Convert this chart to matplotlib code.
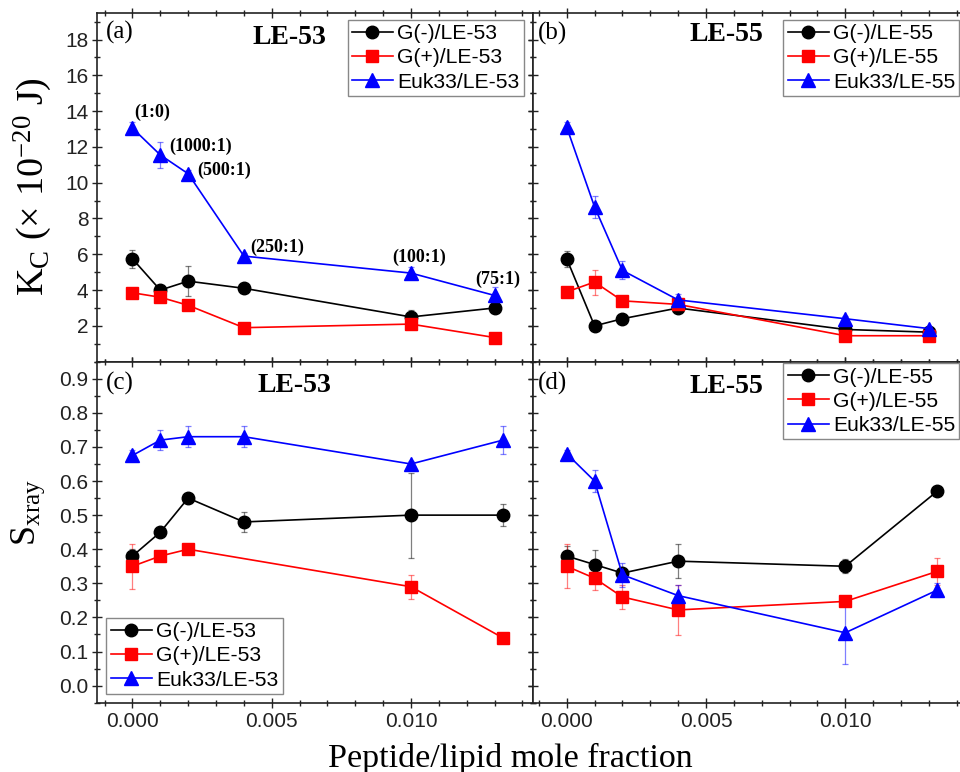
import matplotlib
matplotlib.use('Agg')
import matplotlib.pyplot as plt
from matplotlib.ticker import MultipleLocator, FormatStrFormatter

plt.rcParams['font.family'] = 'Liberation Sans'
plt.rcParams['mathtext.fontset'] = 'custom'
plt.rcParams['mathtext.rm'] = 'Liberation Serif'
plt.rcParams['mathtext.it'] = 'Liberation Serif:italic'

# peptide/lipid mole fraction
x_top = [0.0, 0.001, 0.002, 0.004, 0.010, 0.013]
x_bot = [0.0, 0.001, 0.002, 0.004, 0.010, 0.0133]
x_bot_gp53 = [0.0, 0.001, 0.002, 0.010, 0.0133]

# (a) Kc, LE-53
kc53_gm = [5.75, 4.0, 4.5, 4.1, 2.5, 3.0]
kc53_gm_err = [0.5, 0.0, 0.85, 0.1, 0.4, 0.3]
kc53_gp = [3.85, 3.6, 3.15, 1.9, 2.1, 1.35]
kc53_gp_err = [0.15, 0.15, 0.15, 0.1, 0.15, 0.1]
kc53_euk = [13.05, 11.55, 10.5, 5.9, 4.95, 3.7]
kc53_euk_err = [0.35, 0.75, 0.2, 0.2, 0.35, 0.45]
ratio_labels = ['(1:0)', '(1000:1)', '(500:1)', '(250:1)', '(100:1)', '(75:1)']

# (b) Kc, LE-55
kc55_gm = [5.75, 2.0, 2.4, 3.0, 1.8, 1.65]
kc55_gm_err = [0.45, 0.1, 0.1, 0.15, 0.2, 0.1]
kc55_gp = [3.9, 4.45, 3.4, 3.2, 1.45, 1.45]
kc55_gp_err = [0.15, 0.7, 0.15, 0.1, 0.1, 0.1]
kc55_euk = [13.1, 8.65, 5.1, 3.45, 2.4, 1.85]
kc55_euk_err = [0.3, 0.6, 0.5, 0.35, 0.15, 0.15]

# (c) Sxray, LE-53
s53_gm = [0.38, 0.45, 0.55, 0.48, 0.50, 0.50]
s53_gm_err = [0.02, 0.01, 0.01, 0.03, 0.125, 0.032]
s53_gp = [0.35, 0.38, 0.40, 0.29, 0.14]
s53_gp_err = [0.066, 0.01, 0.01, 0.035, 0.01]
s53_euk = [0.675, 0.72, 0.73, 0.73, 0.65, 0.72]
s53_euk_err = [0.015, 0.03, 0.03, 0.03, 0.01, 0.042]

# (d) Sxray, LE-55
s55_gm = [0.38, 0.355, 0.33, 0.365, 0.35, 0.57]
s55_gm_err = [0.03, 0.043, 0.01, 0.05, 0.02, 0.01]
s55_gp = [0.35, 0.315, 0.26, 0.222, 0.247, 0.335]
s55_gp_err = [0.065, 0.035, 0.035, 0.073, 0.01, 0.04]
s55_euk = [0.68, 0.60, 0.325, 0.264, 0.155, 0.28]
s55_euk_err = [0.01, 0.033, 0.036, 0.03, 0.093, 0.02]

SERIF = 'Liberation Serif'

fig = plt.figure(figsize=(9.6, 7.72), dpi=100)
L, M, R = 0.1014, 0.5555, 1.0
B, MID, T = 0.0898, 0.5315, 0.9836
ax_a = fig.add_axes([L, MID, M - L, T - MID])
ax_b = fig.add_axes([M, MID, R - M, T - MID])
ax_c = fig.add_axes([L, B, M - L, MID - B])
ax_d = fig.add_axes([M, B, R - M, MID - B])


def series(ax, x, y, err, color, marker, ms, label):
    ax.errorbar(x, y, yerr=err, color=color, marker=marker, ms=ms, lw=1.2,
                elinewidth=0.9, capsize=2.5, capthick=0.9,
                ecolor=matplotlib.colors.to_rgba(color, 0.5), label=label)


def style(ax, left_labels, bottom_labels, right_edge=False):
    for s in ax.spines.values():
        s.set_linewidth(1.2)
        s.set_color('#222222')
    ax.tick_params(which='both', direction='inout', top=True, right=not right_edge,
                   labelsize=15, labelleft=left_labels, labelbottom=bottom_labels,
                   width=1.0, colors='#222222', labelcolor='#222222')
    ax.tick_params(which='major', length=7, pad=3)
    ax.tick_params(which='minor', length=4)
    if right_edge:
        ax.spines['right'].set_visible(False)
    ax.xaxis.set_major_locator(MultipleLocator(0.005))
    ax.xaxis.set_minor_locator(MultipleLocator(0.001))
    ax.xaxis.set_major_formatter(FormatStrFormatter('%.3f'))


def legend(ax, loc, anchor):
    handles, labels = ax.get_legend_handles_labels()
    handles = [h[0] for h in handles]
    lg = ax.legend(handles, labels, loc=loc, bbox_to_anchor=anchor, fontsize=15.2,
                   frameon=True, fancybox=False, framealpha=1, edgecolor='#888888',
                   borderpad=0.2, labelspacing=0.25, handlelength=1.95,
                   handletextpad=0.2, borderaxespad=0)
    lg.get_frame().set_linewidth(1.0)


# (a)
series(ax_a, x_top, kc53_gm, kc53_gm_err, 'black', 'o', 9, 'G(-)/LE-53')
series(ax_a, x_top, kc53_gp, kc53_gp_err, 'red', 's', 8.5, 'G(+)/LE-53')
series(ax_a, x_top, kc53_euk, kc53_euk_err, 'blue', '^', 10.5, 'Euk33/LE-53')
offsets = [(2, 16, 'left'), (9, 9, 'left'), (9, 3, 'left'), (6, 9, 'left'),
           (8, 16, 'center'), (3, 16, 'center')]
for xv, yv, txt, (dx, dy, ha) in zip(x_top, kc53_euk, ratio_labels, offsets):
    ax_a.annotate(txt, (xv, yv), xytext=(dx, dy), textcoords='offset pixels',
                  ha=ha, va='center', fontsize=13, fontweight='bold', family=SERIF)

# (b)
series(ax_b, x_top, kc55_gm, kc55_gm_err, 'black', 'o', 9, 'G(-)/LE-55')
series(ax_b, x_top, kc55_gp, kc55_gp_err, 'red', 's', 8.5, 'G(+)/LE-55')
series(ax_b, x_top, kc55_euk, kc55_euk_err, 'blue', '^', 10.5, 'Euk33/LE-55')

# (c)
series(ax_c, x_bot, s53_gm, s53_gm_err, 'black', 'o', 9, 'G(-)/LE-53')
series(ax_c, x_bot_gp53, s53_gp, s53_gp_err, 'red', 's', 8.5, 'G(+)/LE-53')
series(ax_c, x_bot, s53_euk, s53_euk_err, 'blue', '^', 10.5, 'Euk33/LE-53')

# (d)
series(ax_d, x_bot, s55_gm, s55_gm_err, 'black', 'o', 9, 'G(-)/LE-55')
series(ax_d, x_bot, s55_gp, s55_gp_err, 'red', 's', 8.5, 'G(+)/LE-55')
series(ax_d, x_bot, s55_euk, s55_euk_err, 'blue', '^', 10.5, 'Euk33/LE-55')

for ax in (ax_a, ax_b):
    ax.set_ylim(0, 19.5)
for ax in (ax_c, ax_d):
    ax.set_ylim(-0.05, 0.95)

for ax in (ax_a, ax_c):
    ax.set_xlim(-0.00126, 0.01439)
for ax in (ax_b, ax_d):
    ax.set_xlim(-0.0012, 0.01412)

style(ax_a, True, False)
style(ax_b, False, False, right_edge=True)
style(ax_c, True, True)
style(ax_d, False, True, right_edge=True)

for ax in (ax_a, ax_b):
    ax.set_yticks(range(2, 19, 2))
    ax.yaxis.set_minor_locator(MultipleLocator(1))
for ax in (ax_c, ax_d):
    ax.yaxis.set_major_locator(MultipleLocator(0.1))
    ax.yaxis.set_minor_locator(MultipleLocator(0.05))
    ax.yaxis.set_major_formatter(FormatStrFormatter('%.1f'))

legend(ax_a, 'upper left', (0.574, 0.979))
legend(ax_b, 'upper left', (0.586, 0.979))
legend(ax_c, 'lower left', (0.021, 0.0255))
legend(ax_d, 'upper left', (0.586, 0.995))

panels = [(ax_a, '(a)', 0.019, 0.942, 'LE-53', 0.44, 0.9275),
          (ax_b, '(b)', 0.0117, 0.941, 'LE-55', 0.453, 0.936),
          (ax_c, '(c)', 0.019, 0.936, 'LE-53', 0.451, 0.929),
          (ax_d, '(d)', 0.0117, 0.937, 'LE-55', 0.453, 0.927)]
for ax, tag, tx, ty, name, nx, ny in panels:
    ax.text(tx, ty, tag, transform=ax.transAxes, ha='left', va='center',
            fontsize=18, family=SERIF)
    ax.text(nx, ny, name, transform=ax.transAxes, ha='center', va='center',
            fontsize=20, fontweight='bold', family=SERIF)

fig.text(0.0344, 0.7578, r'K$_\mathrm{C}$ (× 10$^{-20}$ J)', rotation=90,
         ha='center', va='center', fontsize=27.5, family=SERIF)
fig.text(0.029, 1 - 512 / 772, r'S$_\mathrm{xray}$', rotation=90,
         ha='center', va='center', fontsize=26, family=SERIF)
fig.text(0.532, 0.0069, 'Peptide/lipid mole fraction', ha='center', va='baseline',
         fontsize=24.5, family=SERIF)

fig.savefig('out.png', dpi=100)
